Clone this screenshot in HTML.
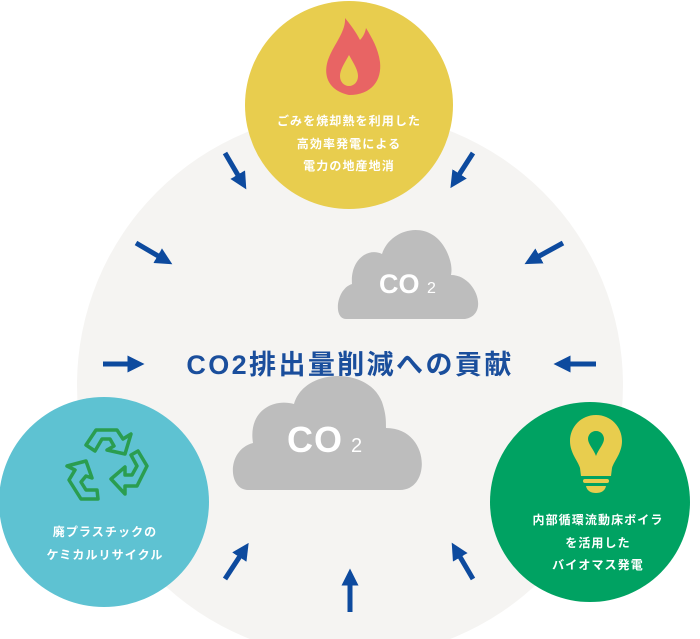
<!DOCTYPE html>
<html><head><meta charset="utf-8"><style>
html,body{margin:0;padding:0;background:#fff}
body{width:700px;height:639px;overflow:hidden;position:relative;font-family:"Liberation Sans","Noto Sans CJK JP",sans-serif}
svg{position:absolute;left:0;top:0}
.t{position:absolute;color:#fff;font-weight:bold;font-size:12px;letter-spacing:1.1px;line-height:22.5px;text-align:center;white-space:nowrap}
</style></head><body>
<svg width="700" height="639" viewBox="0 0 700 639">
<defs>
<marker id="ah" viewBox="0 0 10 10" refX="5" refY="5" markerWidth="3.4" markerHeight="3.4" orient="auto" markerUnits="strokeWidth">
<path d="M0,0 L10,5 L0,10 Z" fill="#0d4a9e"/></marker>
</defs>
<circle cx="350" cy="385" r="273" fill="#f5f4f2"/>
<circle cx="349" cy="105" r="104" fill="#e8cd4e"/>
<circle cx="104" cy="502" r="105" fill="#5ec2d2"/>
<circle cx="590" cy="502" r="100" fill="#00a262"/>
<path d="M345,18 C346,30 336,42 330,55 C322,72 326,90 349,95 C372,95 382,80 380,62 C378,48 372,38 366,28 C365,34 362,38 360,40 C356,32 350,24 345,18 Z" fill="#e86464"/>
<path d="M349,55 C344,64 340,70 340,76 C340,82 344,86 349,86 C354,86 358,82 358,76 C358,70 354,64 349,55 Z" fill="#e8cd4e"/>
<path d="M596,415 C611,415 622,427 622,441 C622,453 614,461 612,468 L611,476 L581,476 L580,468 C578,461 570,453 570,441 C570,427 581,415 596,415 Z" fill="#e8cd4e"/>
<path d="M596,431 C591,431 588,435 588,439 C588,444 594,450 596,456 C598,450 604,444 604,439 C604,435 601,431 596,431 Z" fill="#00a262"/>
<rect x="583" y="479" width="26" height="4" rx="2" fill="#e8cd4e"/>
<path d="M586,486 L606,486 C605,491 601,493 596,493 C591,493 587,491 586,486 Z" fill="#e8cd4e"/>
<g fill="none" stroke="#2a9d50" stroke-width="3.5" stroke-linejoin="round" stroke-linecap="round">
<path d="M86,445 L96,430 L117,430 L123,439 L131,434 L125,454 L107,450 L114,446 L110,439 L102,439 L95,451 Z"/>
<path d="M138,451 L147,466 L137,486 L125,486 L125,494 L111,479 L125,467 L125,475 L132,475 L137,466 L131,455 Z"/>
<path d="M98,499 L81,499 L69,480 L75,470 L67,466 L86,461 L92,478 L86,476 L81,482 L86,490 L97,490 Z"/>
</g>
<path d="M346,319 C333,319 336,289 352,284 C350,260 368,247 382,254 C390,228 430,218 446,250 C452,262 452,270 451,275 C476,275 490,315 465,319 Z" fill="#bdbdbd"/>
<path d="M248,490 C228,490 226,450 253,443 C248,412 272,398 294,404 C304,368 368,366 382,402 C386,414 386,420 386,428 C430,428 432,490 400,490 Z" fill="#bdbdbd"/>
<text x="379" y="293" font-family="Liberation Sans, sans-serif" font-weight="bold" font-size="27" fill="#fff" letter-spacing="0">CO</text>
<text x="427" y="293" font-family="Liberation Sans, sans-serif" font-size="16" fill="#fff">2</text>
<text x="287" y="452" font-family="Liberation Sans, sans-serif" font-weight="bold" font-size="36" fill="#fff" letter-spacing="1">CO</text>
<text x="351" y="452" font-family="Liberation Sans, sans-serif" font-size="20" fill="#fff">2</text>
<text x="350" y="374" text-anchor="middle" font-family="Liberation Sans, Noto Sans CJK JP, sans-serif" font-weight="bold" font-size="27" fill="#1a4e9c" letter-spacing="2.4">CO2排出量削減への貢献</text>
<g stroke="#0d4a9e" stroke-width="5" marker-end="url(#ah)" stroke-linecap="butt">
<line x1="225" y1="153" x2="242" y2="182"/>
<line x1="473" y1="153" x2="455" y2="181"/>
<line x1="136" y1="243" x2="165" y2="260"/>
<line x1="563" y1="243" x2="532" y2="260"/>
<line x1="103" y1="364" x2="136" y2="364"/>
<line x1="596" y1="364" x2="562" y2="364"/>
<line x1="225" y1="579" x2="244" y2="550"/>
<line x1="350" y1="612" x2="350" y2="577"/>
<line x1="473" y1="579" x2="456" y2="550"/>
</g>
</svg>
<div class="t" style="left:249px;top:110px;width:200px">ごみを焼却熱を利用した<br>高効率発電による<br>電力の地産地消</div>
<div class="t" style="left:5px;top:521px;width:200px">廃プラスチックの<br>ケミカルリサイクル</div>
<div class="t" style="left:498px;top:509px;width:200px">内部循環流動床ボイラ<br>を活用した<br>バイオマス発電</div>
</body></html>
